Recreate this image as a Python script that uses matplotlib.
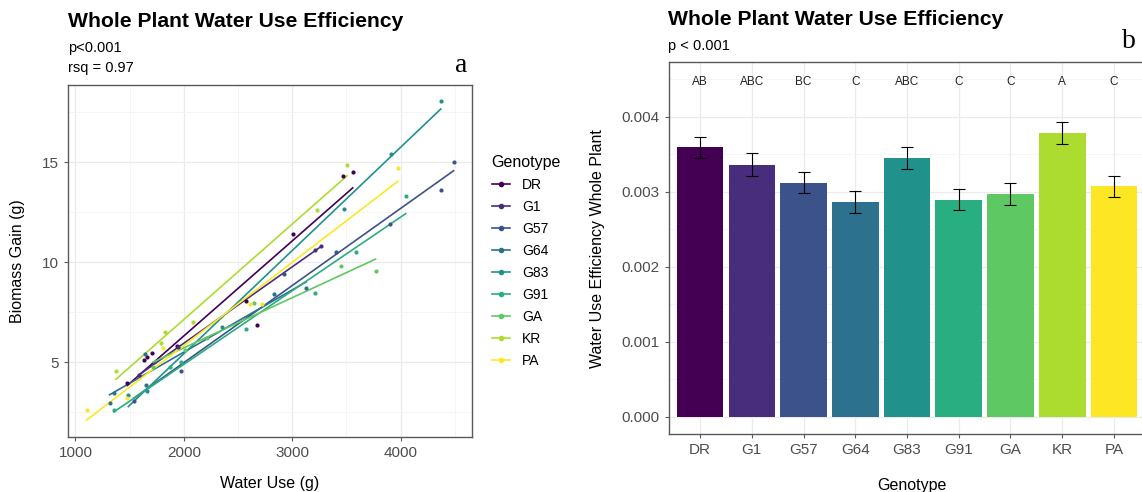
import numpy as np
import matplotlib
matplotlib.use("Agg")
from matplotlib import pyplot as plt
from matplotlib.lines import Line2D

plt.rcParams['font.family'] = ['Liberation Sans', 'DejaVu Sans']

genotypes = ["DR", "G1", "G57", "G64", "G83", "G91", "GA", "KR", "PA"]

# panel a: water use (g) vs biomass gain (g) per genotype
water = {
    "DR":  [1478, 1633, 1663, 1704, 1938, 2571, 2676, 3006, 3472, 3558],
    "G1":  [1583, 1950, 3213, 3269],
    "G57": [1540, 1972, 2920, 3401, 3904, 4370, 4488],
    "G64": [1315, 1355, 1639, 1651, 2836, 3127],
    "G83": [1488, 1664, 2355, 3481, 3914, 4370],
    "G91": [1355, 1873, 1972, 2571, 3213, 3586, 4046],
    "GA":  [1716, 2009, 2213, 2651, 3451, 3768],
    "KR":  [1373, 1790, 1827, 2083, 3228, 3506],
    "PA":  [1102, 1472, 1812, 2608, 2722, 3975],
}
biomass = {
    "DR":  [3.98, 5.10, 5.28, 5.48, 5.80, 8.08, 6.87, 11.4, 14.3, 14.5],
    "G1":  [4.37, 5.75, 10.6, 10.8],
    "G57": [3.07, 4.58, 9.40, 10.5, 11.9, 13.6, 15.0],
    "G64": [2.97, 3.48, 5.40, 3.87, 8.40, 8.70],
    "G83": [3.38, 3.57, 6.75, 12.66, 15.4, 18.05],
    "G91": [2.60, 4.75, 5.03, 6.65, 8.47, 10.5, 13.3],
    "GA":  [4.78, 5.60, 6.20, 7.97, 9.80, 9.55],
    "KR":  [4.55, 5.95, 6.50, 7.03, 12.6, 14.85],
    "PA":  [2.60, 3.23, 5.70, 7.93, 7.93, 14.7],
}

# panel b: mean WUE and standard error
wue_mean = [0.00359, 0.00336, 0.00312, 0.00286, 0.00345, 0.00289, 0.00297, 0.00378, 0.00307]
wue_se = [0.00014, 0.00015, 0.00014, 0.00015, 0.00015, 0.00014, 0.00015, 0.00015, 0.000145]
letters = ["AB", "ABC", "BC", "C", "ABC", "C", "C", "A", "C"]

colors = [plt.cm.viridis(v) for v in np.linspace(0, 1, 9)]
grid_major = "#ebebeb"
grid_minor = "#f4f4f4"
border = "#5a5a5a"
tick_col = "#4d4d4d"

fig = plt.figure(figsize=(11.42, 4.92), dpi=100)
W, H = 1142, 492


def style_panel(ax):
    for s in ax.spines.values():
        s.set_color(border)
        s.set_linewidth(1.0)
    ax.tick_params(colors=border, labelcolor=tick_col, labelsize=11, length=3, width=0.8)
    ax.tick_params(which="minor", length=0)
    ax.grid(True, which="major", color=grid_major, lw=0.9)
    ax.grid(True, which="minor", color=grid_minor, lw=0.6)
    ax.set_axisbelow(True)


# ---------------- panel a ----------------
ax1 = fig.add_axes([68.3 / W, 1 - 436.7 / H, (471.7 - 68.3) / W, (436.7 - 85) / H])
style_panel(ax1)
handles = []
for g, c in zip(genotypes, colors):
    x = np.array(water[g])
    y = np.array(biomass[g])
    ax1.scatter(x, y, s=9, color=c, zorder=3, linewidths=0)
    k, b = np.polyfit(x, y, 1)
    xs = np.array([x.min(), x.max()])
    ax1.plot(xs, k * xs + b, color=c, lw=1.2, zorder=2)
    handles.append(Line2D([], [], color=c, lw=1.2, marker="o", markersize=3))

ax1.set_xlim(934, 4655)
ax1.set_ylim(1.28, 18.87)
ax1.set_xticks([1000, 2000, 3000, 4000])
ax1.set_xticks([1500, 2500, 3500, 4500], minor=True)
ax1.set_yticks([5, 10, 15])
ax1.set_yticks([2.5, 7.5, 12.5, 17.5], minor=True)
ax1.set_xlabel("Water Use (g)", fontsize=11.5)
ax1.set_ylabel("Biomass Gain (g)", fontsize=11.5)
ax1.xaxis.set_label_coords(0.5, -0.112)
ax1.yaxis.set_label_coords(-0.108, 0.5)

leg = fig.legend(handles, genotypes, loc="upper left", bbox_to_anchor=(486 / W, 1 - 149 / H),
                 frameon=False, title="Genotype", fontsize=10, title_fontsize=11.5,
                 handlelength=1.3, labelspacing=0.58, handletextpad=0.9, borderaxespad=0)
leg._legend_box.align = "left"

fig.text(68 / W, 1 - 21.7 / H, "Whole Plant Water Use Efficiency", fontsize=15.2,
         fontweight="bold", va="center", ha="left")
fig.text(68 / W, 1 - 48.3 / H, "p<0.001", fontsize=10.5, va="center", ha="left")
fig.text(68 / W, 1 - 68.3 / H, "rsq = 0.97", fontsize=10.5, va="center", ha="left")
fig.text(461 / W, 1 - 65 / H, "a", fontsize=20, family="Liberation Serif", va="center", ha="center")

# ---------------- panel b ----------------
ax2 = fig.add_axes([669 / W, 1 - 434 / H, (1145 - 669) / W, (434 - 62.3) / H])
style_panel(ax2)
pos = np.arange(len(genotypes))
ax2.bar(pos, wue_mean, width=0.9, color=colors, zorder=2)
ax2.errorbar(pos, wue_mean, yerr=wue_se, fmt="none", ecolor="black", elinewidth=0.8,
             capsize=4.5, capthick=0.8, zorder=3)
for p, lab in zip(pos, letters):
    ax2.text(p, 0.00446, lab, ha="center", va="center", fontsize=8.5, color="#222222")

ax2.set_xlim(-0.6, 8.6)
ax2.set_ylim(-0.000231, 0.004725)
ax2.set_xticks(pos)
ax2.set_xticklabels(genotypes)
ax2.set_yticks([0, 0.001, 0.002, 0.003, 0.004])
ax2.set_yticklabels(["0.000", "0.001", "0.002", "0.003", "0.004"])
ax2.set_yticks([0.0005, 0.0015, 0.0025, 0.0035, 0.0045], minor=True)
ax2.grid(False, which="minor", axis="x")
ax2.set_xlabel("Genotype", fontsize=11.5)
ax2.set_ylabel("Water Use Efficiency Whole Plant", fontsize=11.5)
ax2.xaxis.set_label_coords(0.51, -0.118)
ax2.yaxis.set_label_coords(-0.135, 0.5)

fig.text(668 / W, 1 - 19.5 / H, "Whole Plant Water Use Efficiency", fontsize=15.2,
         fontweight="bold", va="center", ha="left")
fig.text(668 / W, 1 - 46 / H, "p < 0.001", fontsize=10.5, va="center", ha="left")
fig.text(1129 / W, 1 - 42 / H, "b", fontsize=20, family="Liberation Serif", va="center", ha="center")

fig.savefig("out.png", dpi=100)
